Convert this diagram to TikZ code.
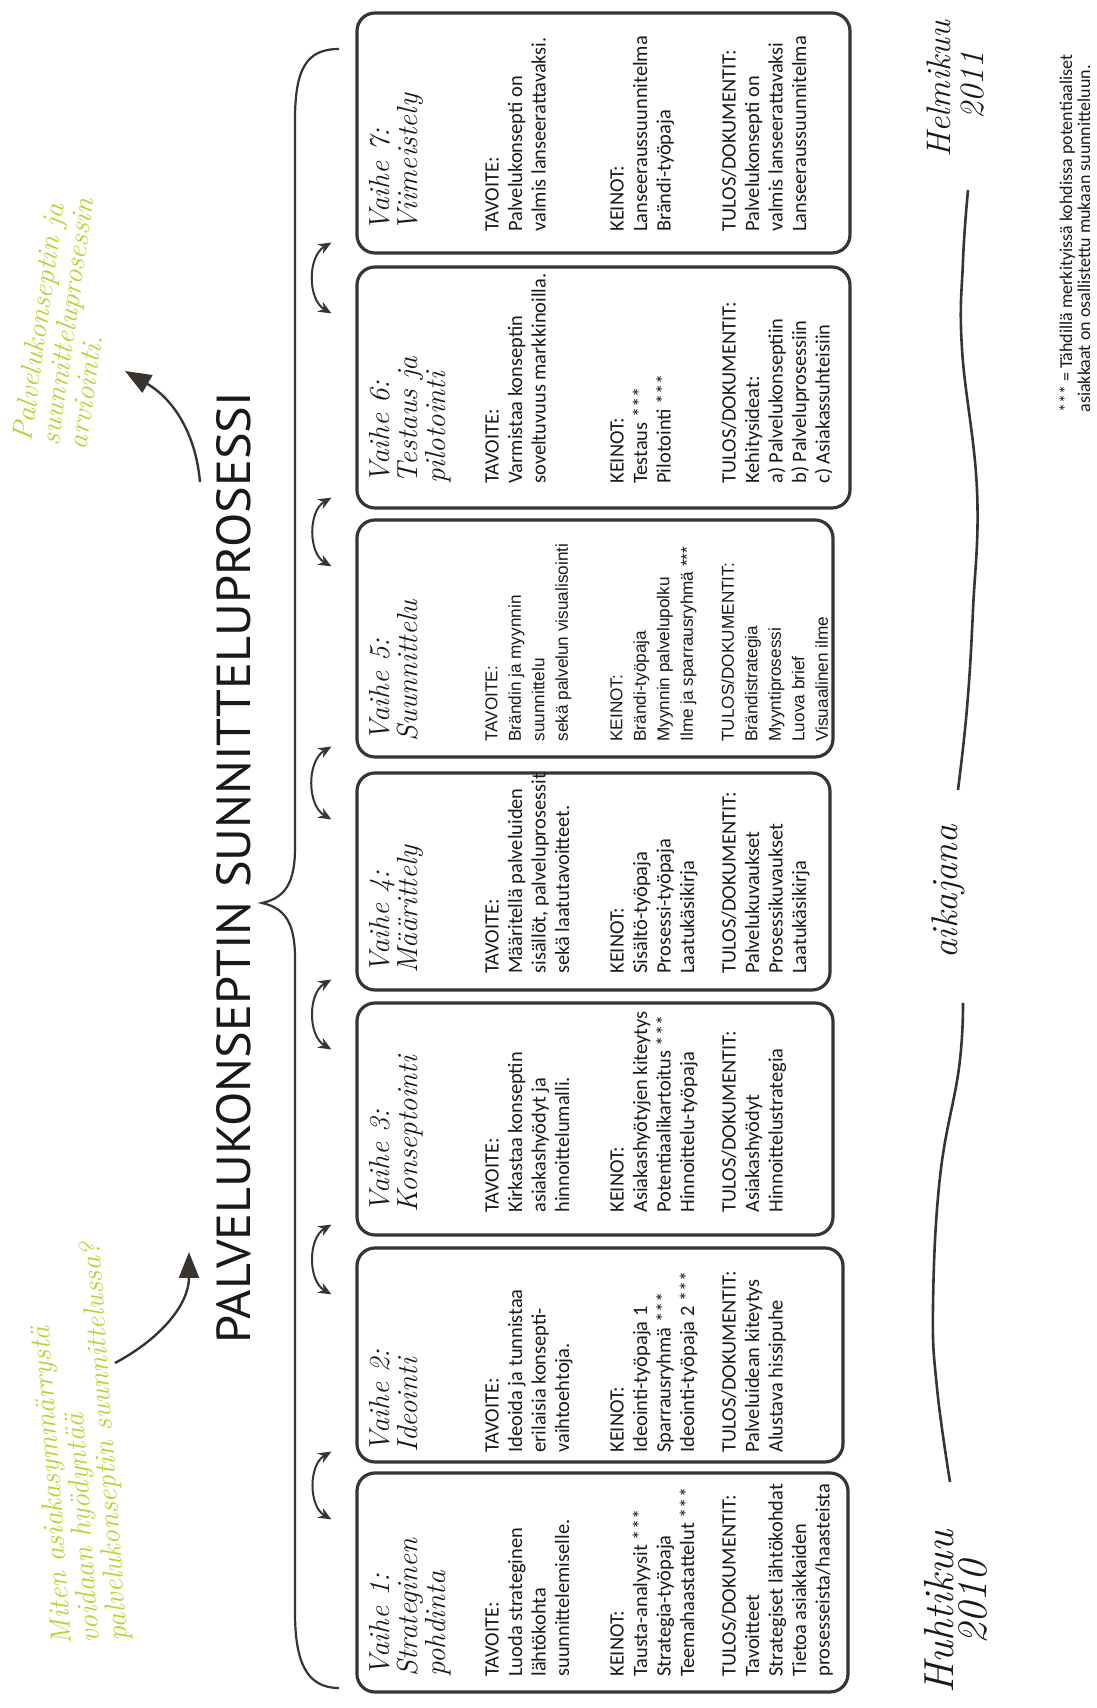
\documentclass[tikz,border=0pt]{standalone}
\usepackage{fontspec}
\usepackage{graphicx}
\usetikzlibrary{arrows.meta,calc}
\newfontfamily\bodyfont{Carlito}
\newfontfamily\arialfont{Liberation Sans}
\newfontfamily\capsfont{PT Sans}
\definecolor{ink}{RGB}{58,52,47}
\definecolor{txt}{RGB}{25,25,25}
\definecolor{marker}{RGB}{180,214,50}

% one phase card: name, text x, left x, right x, bottom y, title, goal, means, results
\newcommand\phasecard[9]{%
  \node[card, minimum width={(#4-#3)*0.5pt}, minimum height={(740-#5)*0.5pt}]
    (#1) at ({(#3+#4)/2},{(#5+740)/2}) {};
  \node[hand, anchor=north west] (#1-t) at (#2,728) {#6};
  \node[cardtext, anchor=north west] (#1-g) at (#2,612) {#7};
  \node[cardtext, anchor=north west] (#1-m) at (#2,487) {#8};
  \node[cardtext, anchor=north west] (#1-r) at (#2,376) {#9};
}

\begin{document}
\begin{tikzpicture}[x=0.5pt,y=0.5pt,
  card/.style={draw=ink, line width=1.6pt, rounded corners=9pt, inner sep=0pt},
  hand/.style={font=\itshape\fontsize{14.5}{14}\selectfont, text=txt, align=left, inner sep=0pt},
  body/.style={font=\bodyfont\fontsize{10.2}{11.75}\selectfont, text=txt, align=left, inner sep=0pt},
  arialbody/.style={font=\arialfont\fontsize{8.6}{11.75}\selectfont, text=txt, align=left, inner sep=0pt},
  cardtext/.style={body},
  link/.style={draw=ink, line width=1pt, {Stealth[length=6.5pt,width=5.5pt]}-{Stealth[length=6.5pt,width=5.5pt]}},
  pointer/.style={draw=ink, line width=1.2pt, -{Triangle[length=13pt,width=10pt]}},
  note/.style={font=\itshape\fontsize{14.5}{14}\selectfont, text=marker, align=left, inner sep=0pt},
  datebig/.style={font=\itshape\fontsize{21}{21}\selectfont, text=txt, inner sep=0pt},
  datesmall/.style={font=\itshape\fontsize{17}{17}\selectfont, text=txt, inner sep=0pt},
  timeline/.style={draw=ink, line width=1.3pt},
]
\begin{scope}[rotate=90, transform shape]
\fill[white] (0,0) rectangle (1708,1097);
\useasboundingbox (0,0) rectangle (1708,1097);

% heading and the brace over the phases
\node[text=txt, inner sep=0pt] (title) at (840,863)
  {\resizebox{476pt}{17pt}{\capsfont PALVELUKONSEPTIN SUNNITTELUPROSESSI}};
\draw[ink, line width=1.1pt]
  (20,758) .. controls (20,790) and (45,802) .. (96,802) -- (750,802)
  .. controls (785,802) and (800,812) .. (805,835)
  .. controls (810,812) and (825,802) .. (860,802) -- (1588,802)
  .. controls (1640,802) and (1659,790) .. (1659,758);

% the seven phases
\phasecard{b1}{31}{16}{235}{249}{Vaihe 1:\\Strateginen\\pohdinta}
  {TAVOITE:\\Luoda strateginen\\lähtökohta\\suunnittelemiselle.}
  {KEINOT:\\Tausta-analyysit ***\\Strategia-työpaja\\Teemahaastattelut ***}
  {TULOS/DOKUMENTIT:\\Tavoitteet\\Strategiset lähtökohdat\\Tietoa asiakkaiden\\prosesseista/haasteista}
\phasecard{b2}{255}{246}{460}{254}{Vaihe 2:\\Ideointi}
  {TAVOITE:\\Ideoida ja tunnistaa\\erilaisia konsepti-\\vaihtoehtoja.}
  {KEINOT:\\Ideointi-työpaja 1\\Sparrausryhmä ***\\Ideointi-työpaja 2 ***}
  {TULOS/DOKUMENTIT:\\Palveluidean kiteytys\\Alustava hissipuhe}
\phasecard{b3}{495}{473}{705}{264}{Vaihe 3:\\Konseptointi}
  {TAVOITE:\\Kirkastaa konseptin\\asiakashyödyt ja\\hinnoittelumalli.}
  {KEINOT:\\Asiakashyötyjen kiteytys\\Potentiaalikartoitus ***\\Hinnoittelu-työpaja}
  {TULOS/DOKUMENTIT:\\Asiakashyödyt\\Hinnoittelustrategia}
\phasecard{b4}{734}{718}{935}{267}{Vaihe 4:\\Määrittely}
  {TAVOITE:\\Määritellä palveluiden\\sisällöt, palveluprosessit\\sekä laatutavoitteet.}
  {KEINOT:\\Sisältö-työpaja\\Prosessi-työpaja\\Laatukäsikirja}
  {TULOS/DOKUMENTIT:\\Palvelukuvaukset\\Prosessikuvaukset\\Laatukäsikirja}
\tikzset{cardtext/.style={arialbody}}
\phasecard{b5}{966}{951}{1188}{264}{Vaihe 5:\\Suunnittelu}
  {TAVOITE:\\Brändin ja myynnin\\suunnittelu\\sekä palvelun visualisointi}
  {KEINOT:\\Brändi-työpaja\\Myynnin palvelupolku\\Ilme ja sparrausryhmä ***}
  {TULOS/DOKUMENTIT:\\Brändistrategia\\Myyntiprosessi\\Luova brief\\Visuaalinen ilme}
\tikzset{cardtext/.style={body}}
\phasecard{b6}{1224}{1200}{1441}{247}{Vaihe 6:\\Testaus ja\\pilotointi}
  {TAVOITE:\\Varmistaa konseptin\\soveltuvuus markkinoilla.}
  {KEINOT:\\Testaus ***\\Pilotointi ***}
  {TULOS/DOKUMENTIT:\\Kehitysideat:\\a) Palvelukonseptiin\\b) Palveluprosessiin\\c) Asiakassuhteisiin}
\phasecard{b7}{1476}{1455}{1695}{247}{Vaihe 7:\\Viimeistely}
  {TAVOITE:\\Palvelukonsepti on\\valmis lanseerattavaksi.}
  {KEINOT:\\Lanseeraussuunnitelma\\Brändi-työpaja}
  {TULOS/DOKUMENTIT:\\Palvelukonsepti on\\valmis lanseerattavaksi\\Lanseeraussuunnitelma}

% two-way links between neighbouring phases
\foreach \a/\b in {b1/b2,b2/b3,b3/b4,b4/b5,b5/b6,b6/b7}
  \draw[link] ($(\a.north east)+(-48,24)$) to[bend left=60] ($(\b.north west)+(12,24)$);

% handwritten notes with their pointers
\node[note, anchor=north west, rotate=4] (askq) at (62,1046)
  {Miten asiakasymmärrystä\\voidaan hyödyntää\\palvelukonseptin suunnittelussa?};
\coordinate (askTail) at (345,982);
\coordinate (askTip) at (456,908);
\draw[pointer] (askTail) to[out=-62, in=180] (askTip);

\node[note, anchor=north west, rotate=-8] (evalq) at (1268,1086)
  {Palvelukonseptin ja\\suunnitteluprosessin\\arviointi.};
\coordinate (evalTail) at (1226,897);
\coordinate (evalTip) at (1337,972);
\draw[pointer] (evalTail) to[out=5, in=240] (evalTip);

% time line
\node[datebig, anchor=west] (startMonth) at (14,158) {Huhtikuu};
\node[datebig, anchor=west] (startYear) at (63,124) {2010};
\node[datesmall, anchor=west] (endMonth) at (1550,158) {Helmikuu};
\node[datesmall, anchor=west] (endYear) at (1588,124) {2011};
\node[font=\itshape\fontsize{18.5}{18.5}\selectfont, text=txt, inner sep=0pt, anchor=west] (axis) at (749,149) {aikajana};
\draw[timeline] plot[smooth, tension=0.7] coordinates {(226,147) (320,160) (401,164) (531,157) (640,138) (705,134)};
\draw[timeline] plot[smooth, tension=0.7] coordinates {(918,139) (1000,130) (1098,124) (1218,120) (1359,135) (1447,134) (1518,129)};

% footnote
\node[font=\bodyfont\fontsize{9}{9}\selectfont, text=txt, align=left, inner sep=0pt, anchor=north west] (starnote) at (1295,38)
  {*** = Tähdillä merkityissä kohdissa potentiaaliset\\asiakkaat on osallistettu mukaan suunnitteluun.};
\end{scope}
\end{tikzpicture}
\end{document}
